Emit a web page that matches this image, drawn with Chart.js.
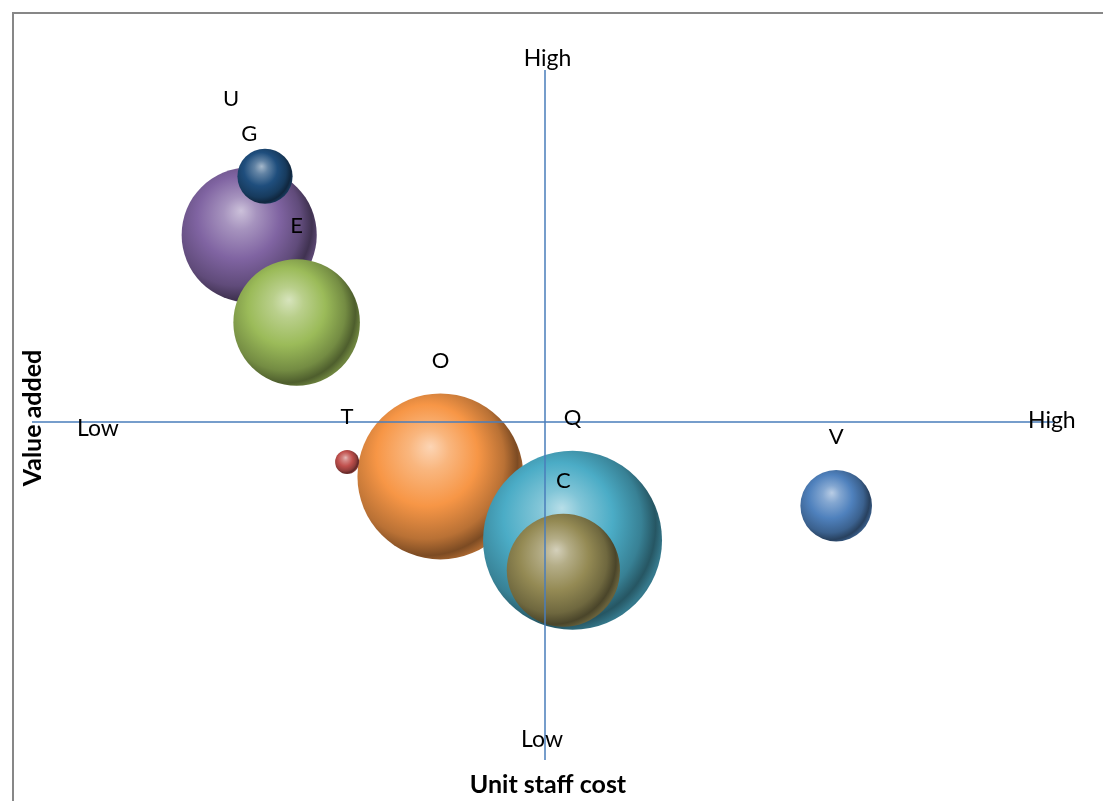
<!DOCTYPE html>
<html>
<head>
<meta charset="utf-8">
<script src="https://cdn.jsdelivr.net/npm/chart.js@4.4.1/dist/chart.umd.min.js"></script>
<style>
  html, body { margin: 0; padding: 0; background: #ffffff; overflow: hidden; }
  #wrap { width: 1103px; height: 801px; position: relative; }
</style>
</head>
<body>
<div id="wrap"><canvas id="c" width="1103" height="801"></canvas></div>
<script>
// Units: unit staff cost (x) vs value added (y), bubble size = weight of each unit
const names      = ['G', 'U', 'E', 'O', 'T', 'Q', 'C', 'V'];
const unitCost   = [-5.80, -5.49, -4.87, -2.05, -3.88, 0.54, 0.36, 5.71];
const valueAdded = [5.42, 7.12, 2.88, -1.58, -1.16, -3.43, -4.30, -2.43];
const sizes      = [57, 9.5, 50, 86, 1.8, 100, 40, 16];
const colours    = ['#8064A2', '#1F4E7D', '#9BBB59', '#F79646', '#C0504D', '#4BACC6', '#948A54', '#4F81BD'];

const xTickLabels = ['Low', 'High'];
const yTickLabels = ['Low', 'High'];
const xTitle = 'Unit staff cost';
const yTitle = 'Value added';

// a label that sits away from its bubble
const labelShift = { U: [-34, -17] };

const maxSize = Math.max(...sizes);
const FONT = 'Lato, "Open Sans", sans-serif';

function mix(hex, t) {
  const n = parseInt(hex.slice(1), 16);
  let r = (n >> 16) & 255, g = (n >> 8) & 255, b = n & 255;
  const target = t > 0 ? 255 : 0, k = Math.abs(t);
  r = Math.round(r + (target - r) * k);
  g = Math.round(g + (target - g) * k);
  b = Math.round(b + (target - b) * k);
  return `rgb(${r},${g},${b})`;
}

function bubbleRadius(chart, i) {
  const a = chart.chartArea;
  const h = a ? a.bottom - a.top : 690;
  return h * 0.1297 * Math.sqrt(sizes[i] / maxSize);
}

// glossy ball: light from the upper left, shade toward the right edge
function sphereFill(ctx) {
  const i = ctx.dataIndex;
  if (i === undefined) return colours[0];
  const chart = ctx.chart;
  const base = colours[i];
  if (!chart.chartArea) return base;
  const x = chart.scales.x.getPixelForValue(unitCost[i]);
  const y = chart.scales.y.getPixelForValue(valueAdded[i]);
  const r = bubbleRadius(chart, i);
  const g = chart.ctx.createRadialGradient(x - 0.12 * r, y - 0.36 * r, 0, x - 0.2 * r, y - 0.15 * r, 1.22 * r);
  g.addColorStop(0, mix(base, 0.6));
  g.addColorStop(0.2, mix(base, 0.3));
  g.addColorStop(0.5, base);
  g.addColorStop(0.78, mix(base, -0.25));
  g.addColorStop(0.92, mix(base, -0.5));
  g.addColorStop(1, mix(base, -0.3));
  return g;
}

const points = names.map((n, i) => ({ x: unitCost[i], y: valueAdded[i], size: sizes[i] }));

const decorations = {
  id: 'decorations',
  beforeDraw(chart) {
    const c = chart.ctx;
    c.save();
    c.strokeStyle = '#878787';
    c.lineWidth = 2;
    c.beginPath();
    c.moveTo(13, 801);
    c.lineTo(13, 13);
    c.lineTo(1103, 13);
    c.stroke();
    c.restore();
  },
  afterDatasetsDraw(chart) {
    const c = chart.ctx;
    const a = chart.chartArea;
    const x0 = chart.scales.x.getPixelForValue(0);
    const y0 = chart.scales.y.getPixelForValue(0);
    c.save();
    // quadrant axes
    c.strokeStyle = '#4A7EBB';
    c.lineWidth = 1.5;
    c.beginPath();
    c.moveTo(x0, a.top);
    c.lineTo(x0, a.bottom);
    c.moveTo(a.left - 3, y0);
    c.lineTo(a.right, y0);
    c.stroke();

    c.fillStyle = '#000000';
    // Low / High ends of the axes
    c.font = `23px ${FONT}`;
    c.textBaseline = 'alphabetic';
    c.textAlign = 'left';
    c.fillText(xTickLabels[0], a.left + 42, y0 + 14);
    c.fillText(xTickLabels[1], a.right - 27, y0 + 6);
    c.textAlign = 'center';
    c.fillText(yTickLabels[1], x0 + 2.5, a.top - 4);
    c.fillText(yTickLabels[0], x0 - 3, a.bottom - 13);

    // bubble labels above each bubble
    c.font = `22px ${FONT}`;
    const meta = chart.getDatasetMeta(0);
    c.textBaseline = 'middle';
    meta.data.forEach((el, i) => {
      const r = el.options.radius;
      const s = labelShift[names[i]] || [0, 0];
      c.fillText(names[i], el.x + s[0], el.y - r - 33 + s[1]);
    });

    // axis titles
    c.font = `bold 25px ${FONT}`;
    c.textBaseline = 'alphabetic';
    c.fillText(xTitle, x0 + 3, a.bottom + 33);
    c.translate(33, 418);
    c.rotate(-Math.PI / 2);
    c.textBaseline = 'middle';
    c.fillText(yTitle, 0, 0);
    c.restore();
  }
};

new Chart(document.getElementById('c'), {
  type: 'bubble',
  data: {
    datasets: [{
      data: points,
      radius: ctx => ctx.dataIndex === undefined ? 0 : bubbleRadius(ctx.chart, ctx.dataIndex),
      backgroundColor: sphereFill,
      borderWidth: 0,
      hoverRadius: 0
    }]
  },
  options: {
    responsive: false,
    devicePixelRatio: 1,
    animation: false,
    events: [],
    layout: { autoPadding: false, padding: { left: 35, right: 48, top: 70, bottom: 41 } },
    plugins: { legend: { display: false }, tooltip: { enabled: false } },
    scales: {
      x: { type: 'linear', min: -10, max: 10, display: false },
      y: { type: 'linear', min: -9.8, max: 10.2, display: false }
    }
  },
  plugins: [decorations]
});
</script>
</body>
</html>
